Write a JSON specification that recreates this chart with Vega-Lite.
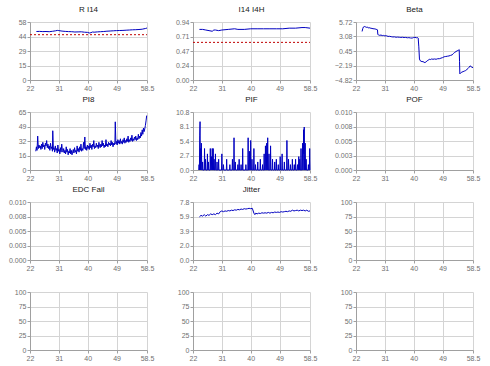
{
  "$schema": "https://vega.github.io/schema/vega-lite/v6.json",
  "background": "white",
  "padding": {"left": 8, "top": 6, "right": 4, "bottom": 4},
  "config": {
    "font": "Liberation Sans",
    "view": {"stroke": null},
    "axis": {"labelFontSize": 7, "labelColor": "#707070", "gridColor": "#d4d4d4", "domainColor": "#a0a0a0", "tickColor": "#a0a0a0", "tickSize": 3, "labelPadding": 1, "labelFlush": false, "labelOverlap": false},
    "title": {"fontSize": 8, "fontWeight": "normal", "color": "#202020", "offset": 4, "font": "Liberation Sans"},
    "line": {"color": "#0000c0", "strokeWidth": 1}
  },
  "datasets": {
    "ri14": [
      {"t": 24, "v": 48.5}, {"t": 25, "v": 48.6}, {"t": 26, "v": 48.4}, {"t": 27, "v": 48.5}, {"t": 28, "v": 48.3}, {"t": 29, "v": 48.7}, {"t": 30, "v": 49.2}, {"t": 30.5, "v": 49.6}, {"t": 31, "v": 49.4}, {"t": 32, "v": 48.9}, {"t": 33, "v": 48.6}, {"t": 34, "v": 48.4}, {"t": 35, "v": 48.3}, {"t": 36, "v": 48.0}, {"t": 37, "v": 48.1}, {"t": 38, "v": 48.2}, {"t": 39, "v": 47.8}, {"t": 40, "v": 47.6}, {"t": 40.5, "v": 47.0}, {"t": 41, "v": 47.3}, {"t": 41.5, "v": 48.0}, {"t": 42, "v": 47.8}, {"t": 43, "v": 48.1}, {"t": 44, "v": 48.3}, {"t": 45, "v": 48.5}, {"t": 46, "v": 48.8}, {"t": 47, "v": 49.0}, {"t": 48, "v": 49.2}, {"t": 49, "v": 49.4}, {"t": 50, "v": 49.5}, {"t": 51, "v": 49.6}, {"t": 52, "v": 49.8}, {"t": 53, "v": 50.0}, {"t": 54, "v": 50.2}, {"t": 55, "v": 50.3}, {"t": 56, "v": 50.5}, {"t": 57, "v": 50.8}, {"t": 58, "v": 51.5}, {"t": 58.5, "v": 52}
    ],
    "ri14t": [{"t": 22, "v": 45.3}, {"t": 58.5, "v": 45.3}],
    "i14": [
      {"t": 24, "v": 0.82}, {"t": 25, "v": 0.82}, {"t": 26, "v": 0.81}, {"t": 27, "v": 0.80}, {"t": 28, "v": 0.79}, {"t": 28.5, "v": 0.81}, {"t": 29, "v": 0.81}, {"t": 30, "v": 0.80}, {"t": 31, "v": 0.81}, {"t": 33, "v": 0.82}, {"t": 35, "v": 0.83}, {"t": 36, "v": 0.82}, {"t": 38, "v": 0.82}, {"t": 40, "v": 0.83}, {"t": 42, "v": 0.83}, {"t": 44, "v": 0.83}, {"t": 46, "v": 0.83}, {"t": 48, "v": 0.83}, {"t": 50, "v": 0.83}, {"t": 52, "v": 0.84}, {"t": 54, "v": 0.84}, {"t": 56, "v": 0.85}, {"t": 57, "v": 0.85}, {"t": 58.5, "v": 0.84}
    ],
    "i14t": [{"t": 22, "v": 0.61}, {"t": 58.5, "v": 0.61}],
    "beta": [
      {"t": 23.9, "v": 4.0}, {"t": 24.1, "v": 4.5}, {"t": 24.3, "v": 4.8}, {"t": 24.6, "v": 4.9}, {"t": 24.9, "v": 4.85}, {"t": 25.2, "v": 4.75}, {"t": 25.5, "v": 4.8}, {"t": 25.8, "v": 4.65}, {"t": 26.1, "v": 4.7}, {"t": 26.4, "v": 4.6}, {"t": 26.7, "v": 4.62}, {"t": 27.0, "v": 4.5}, {"t": 27.3, "v": 4.55}, {"t": 27.6, "v": 4.45}, {"t": 27.9, "v": 4.48}, {"t": 28.2, "v": 4.4}, {"t": 28.5, "v": 4.35}, {"t": 28.7, "v": 4.3}, {"t": 28.8, "v": 3.5}, {"t": 29.0, "v": 3.35}, {"t": 29.4, "v": 3.3}, {"t": 29.8, "v": 3.35}, {"t": 30.2, "v": 3.25}, {"t": 30.6, "v": 3.28}, {"t": 31.0, "v": 3.2}, {"t": 31.5, "v": 3.22}, {"t": 32.0, "v": 3.1}, {"t": 32.5, "v": 3.12}, {"t": 33.0, "v": 3.05}, {"t": 33.5, "v": 3.0}, {"t": 34.0, "v": 3.02}, {"t": 34.5, "v": 2.95}, {"t": 35.0, "v": 2.98}, {"t": 35.5, "v": 2.95}, {"t": 36.0, "v": 2.92}, {"t": 36.5, "v": 2.95}, {"t": 37.0, "v": 2.9}, {"t": 37.5, "v": 2.92}, {"t": 38.0, "v": 2.85}, {"t": 38.5, "v": 2.88}, {"t": 39.0, "v": 2.82}, {"t": 39.5, "v": 2.8}, {"t": 40.0, "v": 2.9}, {"t": 40.4, "v": 2.95}, {"t": 40.8, "v": 2.85}, {"t": 41.2, "v": 2.9}, {"t": 41.4, "v": 2.8}, {"t": 41.6, "v": 1.2}, {"t": 41.8, "v": -1.0}, {"t": 42.0, "v": -1.3}, {"t": 42.3, "v": -1.4}, {"t": 42.6, "v": -1.5}, {"t": 42.9, "v": -1.45}, {"t": 43.2, "v": -1.6}, {"t": 43.5, "v": -1.65}, {"t": 43.8, "v": -1.55}, {"t": 44.1, "v": -1.4}, {"t": 44.4, "v": -1.25}, {"t": 44.7, "v": -1.15}, {"t": 45.0, "v": -1.05}, {"t": 45.3, "v": -1.1}, {"t": 45.6, "v": -1.0}, {"t": 46.0, "v": -1.05}, {"t": 46.5, "v": -1.0}, {"t": 47.0, "v": -1.05}, {"t": 47.5, "v": -0.95}, {"t": 48.0, "v": -0.95}, {"t": 48.5, "v": -0.85}, {"t": 49.0, "v": -0.75}, {"t": 49.5, "v": -0.6}, {"t": 50.0, "v": -0.55}, {"t": 50.5, "v": -0.5}, {"t": 51.0, "v": -0.45}, {"t": 51.5, "v": -0.35}, {"t": 52.0, "v": -0.25}, {"t": 52.4, "v": 0.0}, {"t": 52.8, "v": 0.2}, {"t": 53.2, "v": 0.35}, {"t": 53.6, "v": 0.5}, {"t": 54.0, "v": 0.6}, {"t": 54.2, "v": 0.7}, {"t": 54.3, "v": -1.5}, {"t": 54.4, "v": -3.7}, {"t": 54.7, "v": -3.5}, {"t": 55.0, "v": -3.4}, {"t": 55.4, "v": -3.3}, {"t": 55.8, "v": -3.2}, {"t": 56.2, "v": -3.1}, {"t": 56.6, "v": -2.9}, {"t": 57.0, "v": -2.7}, {"t": 57.3, "v": -2.5}, {"t": 57.6, "v": -2.25}, {"t": 57.9, "v": -2.4}, {"t": 58.2, "v": -2.5}, {"t": 58.5, "v": -2.6}
    ],
    "pi8": [
      {"t": 23.8, "v": 21}, {"t": 24.0, "v": 26}, {"t": 24.2, "v": 22}, {"t": 24.4, "v": 38}, {"t": 24.6, "v": 24}, {"t": 24.8, "v": 28}, {"t": 25.0, "v": 25}, {"t": 25.2, "v": 27}, {"t": 25.4, "v": 23}, {"t": 25.6, "v": 29}, {"t": 25.8, "v": 24}, {"t": 26.0, "v": 31}, {"t": 26.2, "v": 26}, {"t": 26.4, "v": 28}, {"t": 26.6, "v": 23}, {"t": 26.8, "v": 30}, {"t": 27.0, "v": 27}, {"t": 27.2, "v": 33}, {"t": 27.4, "v": 25}, {"t": 27.6, "v": 29}, {"t": 27.8, "v": 24}, {"t": 28.0, "v": 27}, {"t": 28.2, "v": 22}, {"t": 28.4, "v": 30}, {"t": 28.6, "v": 24}, {"t": 28.8, "v": 26}, {"t": 29.0, "v": 21}, {"t": 29.1, "v": 44}, {"t": 29.3, "v": 23}, {"t": 29.5, "v": 25}, {"t": 29.7, "v": 20}, {"t": 29.9, "v": 27}, {"t": 30.1, "v": 22}, {"t": 30.3, "v": 24}, {"t": 30.5, "v": 19}, {"t": 30.7, "v": 28}, {"t": 30.9, "v": 21}, {"t": 31.1, "v": 23}, {"t": 31.3, "v": 18}, {"t": 31.5, "v": 25}, {"t": 31.7, "v": 20}, {"t": 31.9, "v": 29}, {"t": 32.1, "v": 22}, {"t": 32.3, "v": 20}, {"t": 32.5, "v": 24}, {"t": 32.7, "v": 19}, {"t": 32.9, "v": 22}, {"t": 33.1, "v": 18}, {"t": 33.3, "v": 26}, {"t": 33.5, "v": 20}, {"t": 33.7, "v": 23}, {"t": 33.9, "v": 17}, {"t": 34.1, "v": 21}, {"t": 34.3, "v": 19}, {"t": 34.5, "v": 24}, {"t": 34.7, "v": 18}, {"t": 34.9, "v": 22}, {"t": 35.1, "v": 17}, {"t": 35.3, "v": 20}, {"t": 35.5, "v": 23}, {"t": 35.7, "v": 19}, {"t": 35.9, "v": 25}, {"t": 36.1, "v": 20}, {"t": 36.3, "v": 22}, {"t": 36.5, "v": 18}, {"t": 36.7, "v": 27}, {"t": 36.9, "v": 21}, {"t": 37.1, "v": 24}, {"t": 37.3, "v": 20}, {"t": 37.5, "v": 26}, {"t": 37.7, "v": 22}, {"t": 37.9, "v": 29}, {"t": 38.1, "v": 21}, {"t": 38.3, "v": 24}, {"t": 38.5, "v": 22}, {"t": 38.7, "v": 31}, {"t": 38.9, "v": 24}, {"t": 39.1, "v": 37}, {"t": 39.3, "v": 23}, {"t": 39.5, "v": 26}, {"t": 39.7, "v": 22}, {"t": 39.9, "v": 28}, {"t": 40.1, "v": 24}, {"t": 40.3, "v": 27}, {"t": 40.5, "v": 23}, {"t": 40.7, "v": 30}, {"t": 40.9, "v": 25}, {"t": 41.1, "v": 28}, {"t": 41.3, "v": 23}, {"t": 41.5, "v": 29}, {"t": 41.7, "v": 26}, {"t": 41.9, "v": 33}, {"t": 42.1, "v": 24}, {"t": 42.3, "v": 27}, {"t": 42.5, "v": 25}, {"t": 42.7, "v": 30}, {"t": 42.9, "v": 26}, {"t": 43.1, "v": 28}, {"t": 43.3, "v": 24}, {"t": 43.5, "v": 31}, {"t": 43.7, "v": 27}, {"t": 43.9, "v": 25}, {"t": 44.1, "v": 29}, {"t": 44.3, "v": 26}, {"t": 44.5, "v": 33}, {"t": 44.7, "v": 27}, {"t": 44.9, "v": 30}, {"t": 45.1, "v": 25}, {"t": 45.3, "v": 28}, {"t": 45.5, "v": 26}, {"t": 45.7, "v": 34}, {"t": 45.9, "v": 27}, {"t": 46.1, "v": 29}, {"t": 46.3, "v": 26}, {"t": 46.5, "v": 31}, {"t": 46.7, "v": 28}, {"t": 46.9, "v": 30}, {"t": 47.1, "v": 27}, {"t": 47.3, "v": 33}, {"t": 47.5, "v": 28}, {"t": 47.7, "v": 31}, {"t": 47.9, "v": 26}, {"t": 48.1, "v": 30}, {"t": 48.3, "v": 28}, {"t": 48.5, "v": 32}, {"t": 48.6, "v": 54}, {"t": 48.8, "v": 29}, {"t": 49.0, "v": 32}, {"t": 49.2, "v": 28}, {"t": 49.4, "v": 34}, {"t": 49.6, "v": 30}, {"t": 49.8, "v": 33}, {"t": 50.0, "v": 29}, {"t": 50.2, "v": 35}, {"t": 50.4, "v": 30}, {"t": 50.6, "v": 32}, {"t": 50.8, "v": 29}, {"t": 51.0, "v": 34}, {"t": 51.2, "v": 31}, {"t": 51.4, "v": 36}, {"t": 51.6, "v": 30}, {"t": 51.8, "v": 33}, {"t": 52.0, "v": 31}, {"t": 52.2, "v": 35}, {"t": 52.4, "v": 32}, {"t": 52.6, "v": 38}, {"t": 52.8, "v": 31}, {"t": 53.0, "v": 34}, {"t": 53.2, "v": 32}, {"t": 53.4, "v": 36}, {"t": 53.6, "v": 33}, {"t": 53.8, "v": 39}, {"t": 54.0, "v": 32}, {"t": 54.2, "v": 35}, {"t": 54.4, "v": 33}, {"t": 54.6, "v": 37}, {"t": 54.8, "v": 34}, {"t": 55.0, "v": 38}, {"t": 55.2, "v": 33}, {"t": 55.4, "v": 36}, {"t": 55.6, "v": 34}, {"t": 55.8, "v": 40}, {"t": 56.0, "v": 35}, {"t": 56.2, "v": 38}, {"t": 56.4, "v": 36}, {"t": 56.6, "v": 42}, {"t": 56.8, "v": 38}, {"t": 57.0, "v": 45}, {"t": 57.2, "v": 40}, {"t": 57.4, "v": 47}, {"t": 57.6, "v": 43}, {"t": 57.8, "v": 46}, {"t": 58.0, "v": 50}, {"t": 58.2, "v": 55}, {"t": 58.4, "v": 61}
    ],
    "pif": [
      {"t": 23.8, "v": 0}, {"t": 23.9, "v": 1}, {"t": 24.0, "v": 0}, {"t": 24.1, "v": 6.5}, {"t": 24.2, "v": 9.0}, {"t": 24.3, "v": 0}, {"t": 24.4, "v": 4}, {"t": 24.5, "v": 0}, {"t": 24.6, "v": 5}, {"t": 24.75, "v": 0},
      {"t": 24.9, "v": 0}, {"t": 25.0, "v": 1.5}, {"t": 25.1, "v": 0}, {"t": 25.5, "v": 0}, {"t": 25.6, "v": 4}, {"t": 25.7, "v": 0}, {"t": 25.8, "v": 0}, {"t": 25.9, "v": 2}, {"t": 26.0, "v": 0},
      {"t": 26.4, "v": 0}, {"t": 26.5, "v": 3}, {"t": 26.6, "v": 0}, {"t": 26.7, "v": 0}, {"t": 26.8, "v": 1.5}, {"t": 26.9, "v": 0}, {"t": 27.3, "v": 0}, {"t": 27.4, "v": 4}, {"t": 27.5, "v": 0}, {"t": 27.7, "v": 0}, {"t": 27.8, "v": 2.5}, {"t": 27.9, "v": 0}, {"t": 28.0, "v": 4}, {"t": 28.1, "v": 0}, {"t": 28.2, "v": 0}, {"t": 28.3, "v": 4}, {"t": 28.4, "v": 0}, {"t": 28.5, "v": 0}, {"t": 28.6, "v": 2}, {"t": 28.7, "v": 0},
      {"t": 28.9, "v": 0}, {"t": 29.0, "v": 3}, {"t": 29.1, "v": 0}, {"t": 29.4, "v": 0}, {"t": 29.5, "v": 1.5}, {"t": 29.6, "v": 0}, {"t": 29.9, "v": 0}, {"t": 30.0, "v": 2}, {"t": 30.1, "v": 0}, {"t": 30.9, "v": 0}, {"t": 31.0, "v": 3}, {"t": 31.1, "v": 0}, {"t": 31.4, "v": 0}, {"t": 31.5, "v": 1}, {"t": 31.6, "v": 0},
      {"t": 32.4, "v": 0}, {"t": 32.5, "v": 2}, {"t": 32.6, "v": 0}, {"t": 33.4, "v": 0}, {"t": 33.5, "v": 1}, {"t": 33.6, "v": 0}, {"t": 34.2, "v": 0}, {"t": 34.3, "v": 2}, {"t": 34.4, "v": 0}, {"t": 34.7, "v": 0}, {"t": 34.8, "v": 6}, {"t": 34.9, "v": 0}, {"t": 35.1, "v": 0}, {"t": 35.2, "v": 1.5}, {"t": 35.3, "v": 0},
      {"t": 35.9, "v": 0}, {"t": 36.0, "v": 1}, {"t": 36.1, "v": 0}, {"t": 36.3, "v": 0}, {"t": 36.4, "v": 2}, {"t": 36.5, "v": 0}, {"t": 36.9, "v": 0}, {"t": 37.0, "v": 1}, {"t": 37.1, "v": 0}, {"t": 37.4, "v": 0}, {"t": 37.5, "v": 4}, {"t": 37.6, "v": 0}, {"t": 38.4, "v": 0}, {"t": 38.5, "v": 1}, {"t": 38.6, "v": 0},
      {"t": 39.1, "v": 0}, {"t": 39.2, "v": 6}, {"t": 39.3, "v": 0}, {"t": 39.5, "v": 0}, {"t": 39.6, "v": 3.5}, {"t": 39.7, "v": 0}, {"t": 39.9, "v": 0}, {"t": 40.0, "v": 5.5}, {"t": 40.1, "v": 0}, {"t": 40.3, "v": 0}, {"t": 40.4, "v": 2}, {"t": 40.5, "v": 0}, {"t": 40.9, "v": 0}, {"t": 41.0, "v": 4}, {"t": 41.1, "v": 0}, {"t": 41.4, "v": 0}, {"t": 41.5, "v": 1}, {"t": 41.6, "v": 0},
      {"t": 42.1, "v": 0}, {"t": 42.2, "v": 1.5}, {"t": 42.3, "v": 0}, {"t": 42.9, "v": 0}, {"t": 43.0, "v": 2}, {"t": 43.1, "v": 0}, {"t": 43.6, "v": 0}, {"t": 43.7, "v": 1}, {"t": 43.8, "v": 0}, {"t": 44.1, "v": 0}, {"t": 44.2, "v": 3}, {"t": 44.3, "v": 0}, {"t": 44.5, "v": 0}, {"t": 44.6, "v": 4.5}, {"t": 44.7, "v": 0}, {"t": 44.9, "v": 0}, {"t": 45.0, "v": 5}, {"t": 45.1, "v": 0}, {"t": 45.2, "v": 0}, {"t": 45.3, "v": 6}, {"t": 45.4, "v": 0}, {"t": 45.6, "v": 0}, {"t": 45.7, "v": 3}, {"t": 45.8, "v": 0}, {"t": 46.1, "v": 0}, {"t": 46.2, "v": 4.5}, {"t": 46.3, "v": 0}, {"t": 46.7, "v": 0}, {"t": 46.8, "v": 2}, {"t": 46.9, "v": 0},
      {"t": 47.4, "v": 0}, {"t": 47.5, "v": 1.5}, {"t": 47.6, "v": 0}, {"t": 47.9, "v": 0}, {"t": 48.0, "v": 2}, {"t": 48.1, "v": 0}, {"t": 48.5, "v": 0}, {"t": 48.6, "v": 1}, {"t": 48.7, "v": 0}, {"t": 49.1, "v": 0}, {"t": 49.2, "v": 2.5}, {"t": 49.3, "v": 0}, {"t": 49.7, "v": 0}, {"t": 49.8, "v": 3}, {"t": 49.9, "v": 0}, {"t": 50.4, "v": 0}, {"t": 50.5, "v": 1.5}, {"t": 50.6, "v": 0},
      {"t": 51.2, "v": 0}, {"t": 51.3, "v": 5.5}, {"t": 51.4, "v": 0}, {"t": 51.7, "v": 0}, {"t": 51.8, "v": 2}, {"t": 51.9, "v": 0}, {"t": 52.3, "v": 0}, {"t": 52.4, "v": 1}, {"t": 52.5, "v": 0}, {"t": 52.9, "v": 0}, {"t": 53.0, "v": 2}, {"t": 53.1, "v": 0}, {"t": 53.5, "v": 0}, {"t": 53.6, "v": 1}, {"t": 53.7, "v": 0}, {"t": 53.9, "v": 0}, {"t": 54.0, "v": 2}, {"t": 54.1, "v": 0}, {"t": 54.5, "v": 0}, {"t": 54.6, "v": 1}, {"t": 54.7, "v": 0},
      {"t": 54.9, "v": 0}, {"t": 55.0, "v": 2.5}, {"t": 55.1, "v": 0}, {"t": 55.2, "v": 0}, {"t": 55.3, "v": 2}, {"t": 55.4, "v": 0}, {"t": 55.6, "v": 0}, {"t": 55.7, "v": 4}, {"t": 55.8, "v": 0}, {"t": 56.1, "v": 0}, {"t": 56.2, "v": 5}, {"t": 56.3, "v": 0}, {"t": 56.4, "v": 0}, {"t": 56.5, "v": 7.5}, {"t": 56.6, "v": 3}, {"t": 56.7, "v": 8}, {"t": 56.8, "v": 0}, {"t": 56.9, "v": 0}, {"t": 57.0, "v": 5}, {"t": 57.1, "v": 0}, {"t": 57.2, "v": 0}, {"t": 57.3, "v": 2}, {"t": 57.4, "v": 0},
      {"t": 57.9, "v": 0}, {"t": 58.0, "v": 1}, {"t": 58.1, "v": 0}, {"t": 58.3, "v": 0}, {"t": 58.4, "v": 4}, {"t": 58.5, "v": 0}
    ],
    "jitter": [
      {"t": 24, "v": 5.8}, {"t": 24.5, "v": 6.0}, {"t": 25, "v": 5.9}, {"t": 25.5, "v": 6.1}, {"t": 26, "v": 5.9}, {"t": 26.5, "v": 6.1}, {"t": 27, "v": 6.0}, {"t": 27.5, "v": 6.2}, {"t": 28, "v": 6.1}, {"t": 28.5, "v": 6.2}, {"t": 29, "v": 6.1}, {"t": 29.5, "v": 6.3}, {"t": 30, "v": 6.2}, {"t": 30.5, "v": 6.5}, {"t": 31, "v": 6.6}, {"t": 31.5, "v": 6.5}, {"t": 32, "v": 6.6}, {"t": 32.5, "v": 6.55}, {"t": 33, "v": 6.65}, {"t": 33.5, "v": 6.6}, {"t": 34, "v": 6.7}, {"t": 34.5, "v": 6.65}, {"t": 35, "v": 6.75}, {"t": 35.5, "v": 6.7}, {"t": 36, "v": 6.8}, {"t": 36.5, "v": 6.75}, {"t": 37, "v": 6.85}, {"t": 37.5, "v": 6.8}, {"t": 38, "v": 6.9}, {"t": 38.5, "v": 6.85}, {"t": 39, "v": 6.9}, {"t": 39.5, "v": 6.95}, {"t": 40, "v": 6.9}, {"t": 40.5, "v": 6.95}, {"t": 41, "v": 6.3}, {"t": 41.3, "v": 6.1}, {"t": 41.6, "v": 6.3}, {"t": 42, "v": 6.2}, {"t": 42.5, "v": 6.3}, {"t": 43, "v": 6.25}, {"t": 43.5, "v": 6.35}, {"t": 44, "v": 6.3}, {"t": 44.5, "v": 6.35}, {"t": 45, "v": 6.3}, {"t": 45.5, "v": 6.4}, {"t": 46, "v": 6.3}, {"t": 46.5, "v": 6.4}, {"t": 47, "v": 6.35}, {"t": 47.5, "v": 6.45}, {"t": 48, "v": 6.4}, {"t": 48.5, "v": 6.45}, {"t": 49, "v": 6.4}, {"t": 49.5, "v": 6.5}, {"t": 50, "v": 6.45}, {"t": 50.5, "v": 6.5}, {"t": 51, "v": 6.55}, {"t": 51.5, "v": 6.5}, {"t": 52, "v": 6.6}, {"t": 52.5, "v": 6.55}, {"t": 53, "v": 6.7}, {"t": 53.5, "v": 6.6}, {"t": 54, "v": 6.65}, {"t": 54.5, "v": 6.7}, {"t": 55, "v": 6.6}, {"t": 55.5, "v": 6.7}, {"t": 56, "v": 6.65}, {"t": 56.5, "v": 6.7}, {"t": 57, "v": 6.6}, {"t": 57.5, "v": 6.7}, {"t": 58, "v": 6.55}, {"t": 58.5, "v": 6.6}
    ]
  },
  "columns": 3,
  "spacing": {"row": 32, "column": 46},
  "bounds": "flush",
  "concat": [
    {
      "title": "R I14", "width": 117, "height": 58,
      "encoding": {
        "x": {"field": "t", "type": "quantitative", "title": null, "scale": {"domain": [22, 58.5], "nice": false, "zero": false}, "axis": {"values": [22, 31, 40, 49, 58.5], "labelExpr": "'' + datum.value"}},
        "y": {"field": "v", "type": "quantitative", "title": null, "scale": {"domain": [0, 58], "nice": false}, "axis": {"values": [0, 14.5, 29, 43.5, 58], "labelExpr": "format(datum.value + 0.000001, '.0f')"}}
      },
      "layer": [
        {"data": {"name": "ri14"}, "mark": "line"},
        {"data": {"name": "ri14t"}, "mark": {"type": "line", "color": "#c00000", "strokeDash": [2, 2]}}
      ]
    },
    {
      "title": "I14 I4H", "width": 117, "height": 58,
      "encoding": {
        "x": {"field": "t", "type": "quantitative", "title": null, "scale": {"domain": [22, 58.5], "nice": false, "zero": false}, "axis": {"values": [22, 31, 40, 49, 58.5], "labelExpr": "'' + datum.value"}},
        "y": {"field": "v", "type": "quantitative", "title": null, "scale": {"domain": [0, 0.94], "nice": false}, "axis": {"values": [0, 0.235, 0.47, 0.705, 0.94], "labelExpr": "format(datum.value + 0.000001, '.2f')"}}
      },
      "layer": [
        {"data": {"name": "i14"}, "mark": "line"},
        {"data": {"name": "i14t"}, "mark": {"type": "line", "color": "#c00000", "strokeDash": [2, 2]}}
      ]
    },
    {
      "title": "Beta", "width": 117, "height": 58,
      "data": {"name": "beta"}, "mark": "line", "encoding": {
        "x": {"field": "t", "type": "quantitative", "title": null, "scale": {"domain": [22, 58.5], "nice": false, "zero": false}, "axis": {"values": [22, 31, 40, 49, 58.5], "labelExpr": "'' + datum.value"}},
        "y": {"field": "v", "type": "quantitative", "title": null, "scale": {"domain": [-4.82, 5.72], "nice": false, "zero": false}, "axis": {"values": [-4.82, -2.185, 0.45, 3.085, 5.72], "labelExpr": "format(datum.value - 0.000001, '.2f')"}}}
    },
    {
      "title": "PI8", "width": 117, "height": 58,
      "data": {"name": "pi8"}, "mark": "line", "encoding": {
        "x": {"field": "t", "type": "quantitative", "title": null, "scale": {"domain": [22, 58.5], "nice": false, "zero": false}, "axis": {"values": [22, 31, 40, 49, 58.5], "labelExpr": "'' + datum.value"}},
        "y": {"field": "v", "type": "quantitative", "title": null, "scale": {"domain": [0, 65], "nice": false}, "axis": {"values": [0, 16.25, 32.5, 48.75, 65], "labelExpr": "datum.value == 32.5 ? '32' : format(datum.value, '.0f')"}}}
    },
    {
      "title": "PIF", "width": 117, "height": 58,
      "data": {"name": "pif"}, "mark": "line", "encoding": {
        "x": {"field": "t", "type": "quantitative", "title": null, "scale": {"domain": [22, 58.5], "nice": false, "zero": false}, "axis": {"values": [22, 31, 40, 49, 58.5], "labelExpr": "'' + datum.value"}},
        "y": {"field": "v", "type": "quantitative", "title": null, "scale": {"domain": [0, 10.8], "nice": false}, "axis": {"values": [0, 2.7, 5.4, 8.1, 10.8], "labelExpr": "format(datum.value + 0.000001, '.1f')"}}}
    },
    {
      "title": "POF", "width": 117, "height": 58,
      "data": {"values": []}, "mark": "line", "encoding": {
        "x": {"field": "t", "type": "quantitative", "title": null, "scale": {"domain": [22, 58.5], "nice": false, "zero": false}, "axis": {"values": [22, 31, 40, 49, 58.5], "labelExpr": "'' + datum.value"}},
        "y": {"field": "v", "type": "quantitative", "title": null, "scale": {"domain": [0, 0.01], "nice": false}, "axis": {"values": [0, 0.0025, 0.005, 0.0075, 0.01], "labelExpr": "format(datum.value + 0.0000001, '.3f')"}}}
    },
    {
      "title": "EDC Fail", "width": 117, "height": 58,
      "data": {"values": []}, "mark": "line", "encoding": {
        "x": {"field": "t", "type": "quantitative", "title": null, "scale": {"domain": [22, 58.5], "nice": false, "zero": false}, "axis": {"values": [22, 31, 40, 49, 58.5], "labelExpr": "'' + datum.value"}},
        "y": {"field": "v", "type": "quantitative", "title": null, "scale": {"domain": [0, 0.01], "nice": false}, "axis": {"values": [0, 0.0025, 0.005, 0.0075, 0.01], "labelExpr": "format(datum.value + 0.0000001, '.3f')"}}}
    },
    {
      "title": "Jitter", "width": 117, "height": 58,
      "data": {"name": "jitter"}, "mark": "line", "encoding": {
        "x": {"field": "t", "type": "quantitative", "title": null, "scale": {"domain": [22, 58.5], "nice": false, "zero": false}, "axis": {"values": [22, 31, 40, 49, 58.5], "labelExpr": "'' + datum.value"}},
        "y": {"field": "v", "type": "quantitative", "title": null, "scale": {"domain": [0, 7.8], "nice": false}, "axis": {"values": [0, 1.95, 3.9, 5.85, 7.8], "labelExpr": "format(datum.value + 0.000001, '.1f')"}}}
    },
    {
      "width": 117, "height": 58,
      "data": {"values": []}, "mark": "line", "encoding": {
        "x": {"field": "t", "type": "quantitative", "title": null, "scale": {"domain": [22, 58.5], "nice": false, "zero": false}, "axis": {"values": [22, 31, 40, 49, 58.5], "labelExpr": "'' + datum.value"}},
        "y": {"field": "v", "type": "quantitative", "title": null, "scale": {"domain": [0, 100], "nice": false}, "axis": {"values": [0, 25, 50, 75, 100]}}}
    },
    {
      "width": 117, "height": 58,
      "data": {"values": []}, "mark": "line", "encoding": {
        "x": {"field": "t", "type": "quantitative", "title": null, "scale": {"domain": [22, 58.5], "nice": false, "zero": false}, "axis": {"values": [22, 31, 40, 49, 58.5], "labelExpr": "'' + datum.value"}},
        "y": {"field": "v", "type": "quantitative", "title": null, "scale": {"domain": [0, 100], "nice": false}, "axis": {"values": [0, 25, 50, 75, 100]}}}
    },
    {
      "width": 117, "height": 58,
      "data": {"values": []}, "mark": "line", "encoding": {
        "x": {"field": "t", "type": "quantitative", "title": null, "scale": {"domain": [22, 58.5], "nice": false, "zero": false}, "axis": {"values": [22, 31, 40, 49, 58.5], "labelExpr": "'' + datum.value"}},
        "y": {"field": "v", "type": "quantitative", "title": null, "scale": {"domain": [0, 100], "nice": false}, "axis": {"values": [0, 25, 50, 75, 100]}}}
    },
    {
      "width": 117, "height": 58,
      "data": {"values": []}, "mark": "line", "encoding": {
        "x": {"field": "t", "type": "quantitative", "title": null, "scale": {"domain": [22, 58.5], "nice": false, "zero": false}, "axis": {"values": [22, 31, 40, 49, 58.5], "labelExpr": "'' + datum.value"}},
        "y": {"field": "v", "type": "quantitative", "title": null, "scale": {"domain": [0, 100], "nice": false}, "axis": {"values": [0, 25, 50, 75, 100]}}}
    }
  ]
}
